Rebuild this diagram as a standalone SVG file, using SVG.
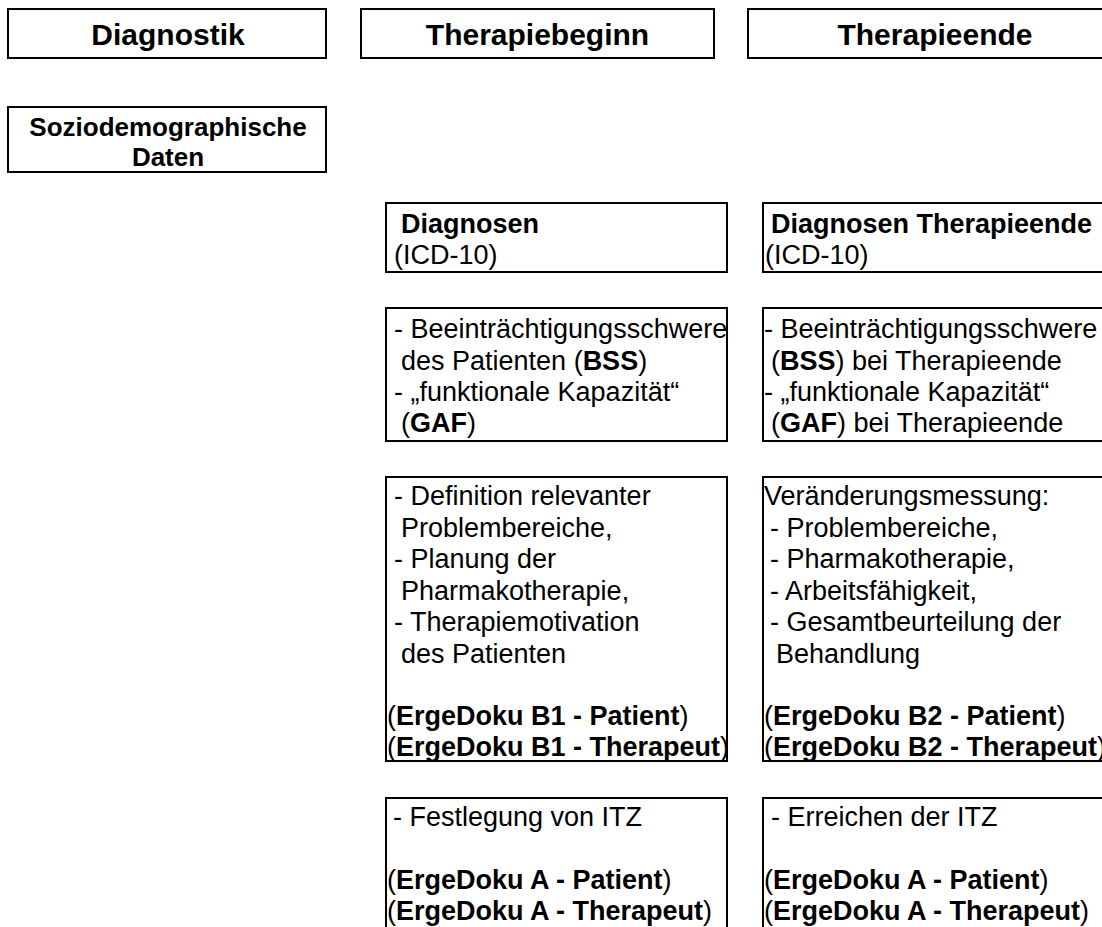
<svg xmlns="http://www.w3.org/2000/svg" width="1102" height="927" viewBox="0 0 1102 927">
<style>
rect.box{fill:#fff;stroke:#000;stroke-width:2}
text{font-family:"Liberation Sans",Arial,sans-serif;fill:#000}
.h{font-size:30px;font-weight:bold;text-anchor:middle}
.s{font-size:26px;font-weight:bold;text-anchor:middle}
.t{font-size:27px}
.b{font-weight:bold}
</style>
<rect width="1102" height="927" fill="#fff"/>
<g id="hdr-diagnostik">
<rect class="box" x="8" y="9" width="318" height="49"/>
<text class="h" x="168" y="45">Diagnostik</text>
</g>
<g id="hdr-therapiebeginn">
<rect class="box" x="361" y="9" width="353" height="49"/>
<text class="h" x="537.5" y="45">Therapiebeginn</text>
</g>
<g id="hdr-therapieende">
<rect class="box" x="748" y="9" width="374" height="49"/>
<text class="h" x="935" y="45">Therapieende</text>
</g>
<g id="soziodemo">
<rect class="box" x="8" y="107" width="318" height="65"/>
<text class="s" x="168" y="136">Soziodemographische</text>
<text class="s" x="168" y="166">Daten</text>
</g>
<g id="diagnosen-beginn">
<rect class="box" x="386" y="203" width="341" height="69"/>
<text class="t b" x="401" y="233">Diagnosen</text>
<text class="t" x="394" y="264">(ICD-10)</text>
</g>
<g id="diagnosen-ende">
<rect class="box" x="763" y="203" width="360" height="69"/>
<text class="t b" x="771" y="233">Diagnosen Therapieende</text>
<text class="t" x="765" y="264">(ICD-10)</text>
</g>
<g id="bss-beginn">
<rect class="box" x="386" y="308" width="341" height="133"/>
<text class="t" x="394" y="338">- Beeinträchtigungsschwere</text>
<text class="t" x="401" y="369.5">des Patienten (<tspan class="b">BSS</tspan>)</text>
<text class="t" x="394" y="401">- „funktionale Kapazität“</text>
<text class="t" x="401" y="432">(<tspan class="b">GAF</tspan>)</text>
</g>
<g id="bss-ende">
<rect class="box" x="763" y="308" width="360" height="133"/>
<text class="t" x="764" y="338">- Beeinträchtigungsschwere</text>
<text class="t" x="771" y="369.5">(<tspan class="b">BSS</tspan>) bei Therapieende</text>
<text class="t" x="764" y="401">- „funktionale Kapazität“</text>
<text class="t" x="771" y="432">(<tspan class="b">GAF</tspan>) bei Therapieende</text>
</g>
<g id="b1-beginn">
<rect class="box" x="386" y="477" width="341" height="284"/>
<text class="t" x="394" y="505">- Definition relevanter</text>
<text class="t" x="401" y="536.5">Problembereiche,</text>
<text class="t" x="394" y="568">- Planung der</text>
<text class="t" x="401" y="599.5">Pharmakotherapie,</text>
<text class="t" x="394" y="631">- Therapiemotivation</text>
<text class="t" x="401" y="662.5">des Patienten</text>
<text class="t" x="387" y="725">(<tspan class="b">ErgeDoku B1 - Patient</tspan>)</text>
<text class="t" x="387" y="756">(<tspan class="b">ErgeDoku B1 - Therapeut</tspan>)</text>
</g>
<g id="b2-ende">
<rect class="box" x="763" y="477" width="360" height="284"/>
<text class="t" x="764" y="505">Veränderungsmessung:</text>
<text class="t" x="770" y="536.5">- Problembereiche,</text>
<text class="t" x="770" y="568">- Pharmakotherapie,</text>
<text class="t" x="770" y="599.5">- Arbeitsfähigkeit,</text>
<text class="t" x="770" y="631">- Gesamtbeurteilung der</text>
<text class="t" x="776" y="662.5">Behandlung</text>
<text class="t" x="764" y="725">(<tspan class="b">ErgeDoku B2 - Patient</tspan>)</text>
<text class="t" x="764" y="756">(<tspan class="b">ErgeDoku B2 - Therapeut</tspan>)</text>
</g>
<g id="itz-beginn">
<rect class="box" x="386" y="798" width="341" height="140"/>
<text class="t" x="393" y="826">- Festlegung von ITZ</text>
<text class="t" x="387" y="889">(<tspan class="b">ErgeDoku A - Patient</tspan>)</text>
<text class="t" x="387" y="920">(<tspan class="b">ErgeDoku A - Therapeut</tspan>)</text>
</g>
<g id="itz-ende">
<rect class="box" x="763" y="798" width="360" height="140"/>
<text class="t" x="771" y="826">- Erreichen der ITZ</text>
<text class="t" x="764" y="889">(<tspan class="b">ErgeDoku A - Patient</tspan>)</text>
<text class="t" x="764" y="920">(<tspan class="b">ErgeDoku A - Therapeut</tspan>)</text>
</g>
</svg>
